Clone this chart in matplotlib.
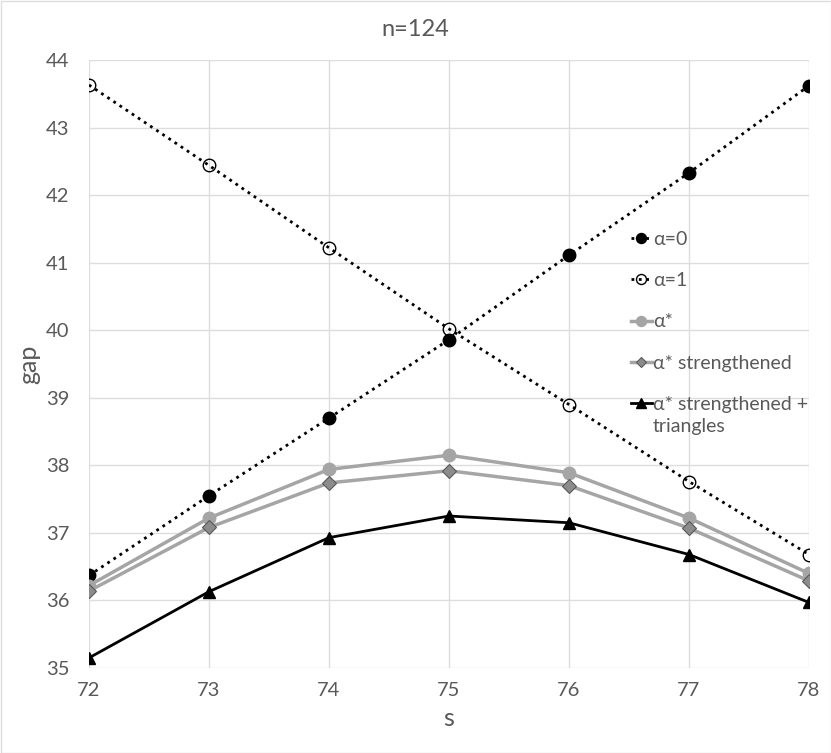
import matplotlib
matplotlib.use("Agg")
import matplotlib.pyplot as plt
from matplotlib.patches import Rectangle

plt.rcParams['font.family'] = ['Lato', 'DejaVu Sans']

s_values = [72, 73, 74, 75, 76, 77, 78]
alpha0 = [36.37, 37.55, 38.70, 39.86, 41.11, 42.33, 43.62]
alpha1 = [43.63, 42.44, 41.22, 40.02, 38.90, 37.76, 36.68]
alpha_star = [36.22, 37.22, 37.94, 38.15, 37.89, 37.22, 36.40]
alpha_star_str = [36.14, 37.08, 37.74, 37.92, 37.70, 37.07, 36.29]
alpha_star_str_tri = [35.15, 36.13, 36.93, 37.25, 37.15, 36.68, 35.97]

labels = ["α=0", "α=1", "α*", "α* strengthened", "α* strengthened +", "triangles"]
x_ticks = [72, 73, 74, 75, 76, 77, 78]
y_ticks = [35, 36, 37, 38, 39, 40, 41, 42, 43, 44]

W, H = 831, 753
fig = plt.figure(figsize=(W / 100, H / 100), dpi=100)
ax = fig.add_axes([89 / W, 1 - 668 / H, (809 - 89) / W, (668 - 60) / H])

txt = '#595959'
grid = '#DDDDDD'

ax.plot(s_values, alpha0, color='black', linestyle=':', linewidth=2,
        marker='o', markersize=9, markerfacecolor='black', markeredgecolor='black',
        label=labels[0], zorder=3)
ax.plot(s_values, alpha1, color='black', linestyle=':', linewidth=2,
        marker='o', markersize=9, markerfacecolor='none', markeredgecolor='black',
        markeredgewidth=1, label=labels[1], zorder=3)
ax.plot(s_values, alpha_star, color='#A5A5A5', linestyle='-', linewidth=2.5,
        marker='o', markersize=9, markerfacecolor='#A5A5A5', markeredgecolor='#A5A5A5',
        label=labels[2], zorder=3)
ax.plot(s_values, alpha_star_str, color='#A5A5A5', linestyle='-', linewidth=2.5,
        marker='D', markersize=7, markerfacecolor='#8C8C8C', markeredgecolor='#595959',
        markeredgewidth=0.8, label=labels[3], zorder=3)
ax.plot(s_values, alpha_star_str_tri, color='black', linestyle='-', linewidth=2,
        marker='^', markersize=9, markerfacecolor='black', markeredgecolor='black',
        label=labels[4], zorder=3)

ax.set_xlim(72, 78)
ax.set_ylim(35, 44)
ax.set_xticks(x_ticks)
ax.set_yticks(y_ticks)
ax.grid(True, color=grid, linewidth=1)
ax.set_axisbelow(True)
for sp in ax.spines.values():
    sp.set_visible(False)
ax.tick_params(length=0, colors=txt, labelsize=14.5)
ax.tick_params(axis='y', pad=14)
ax.tick_params(axis='x', pad=10)
for lab in ax.get_xticklabels() + ax.get_yticklabels():
    lab.set_color(txt)

ax.set_xlabel('s', color=txt, fontsize=18, labelpad=6)
ax.set_ylabel('gap', color=txt, fontsize=18, labelpad=4)
fig.text(0.5, 1 - 30 / H, 'n=124', color=txt, fontsize=17, ha='center', va='center')

leg = ax.legend(loc='upper left', bbox_to_anchor=((621 - 89) / (809 - 89), (668 - 221) / (668 - 60)),
                frameon=False, fontsize=14, handlelength=1.1, handletextpad=0.05,
                labelspacing=1.25, borderpad=0, markerscale=0.8)
for t in leg.get_texts():
    t.set_color(txt)

# second line of the last legend label, placed under the first line
fig.canvas.draw()
last = leg.get_texts()[-1]
bb = last.get_window_extent()
x0, y0 = fig.transFigure.inverted().transform((bb.x0, bb.y0))
fig.text(x0, y0 - 5 / H, labels[5], color=txt, fontsize=14, ha='left', va='top')

fig.patches.append(Rectangle((0.5 / W, 0.5 / H), 1 - 1 / W, 1 - 1 / H, transform=fig.transFigure,
                             fill=False, edgecolor=grid, linewidth=1))

fig.savefig('out.png', dpi=100)
